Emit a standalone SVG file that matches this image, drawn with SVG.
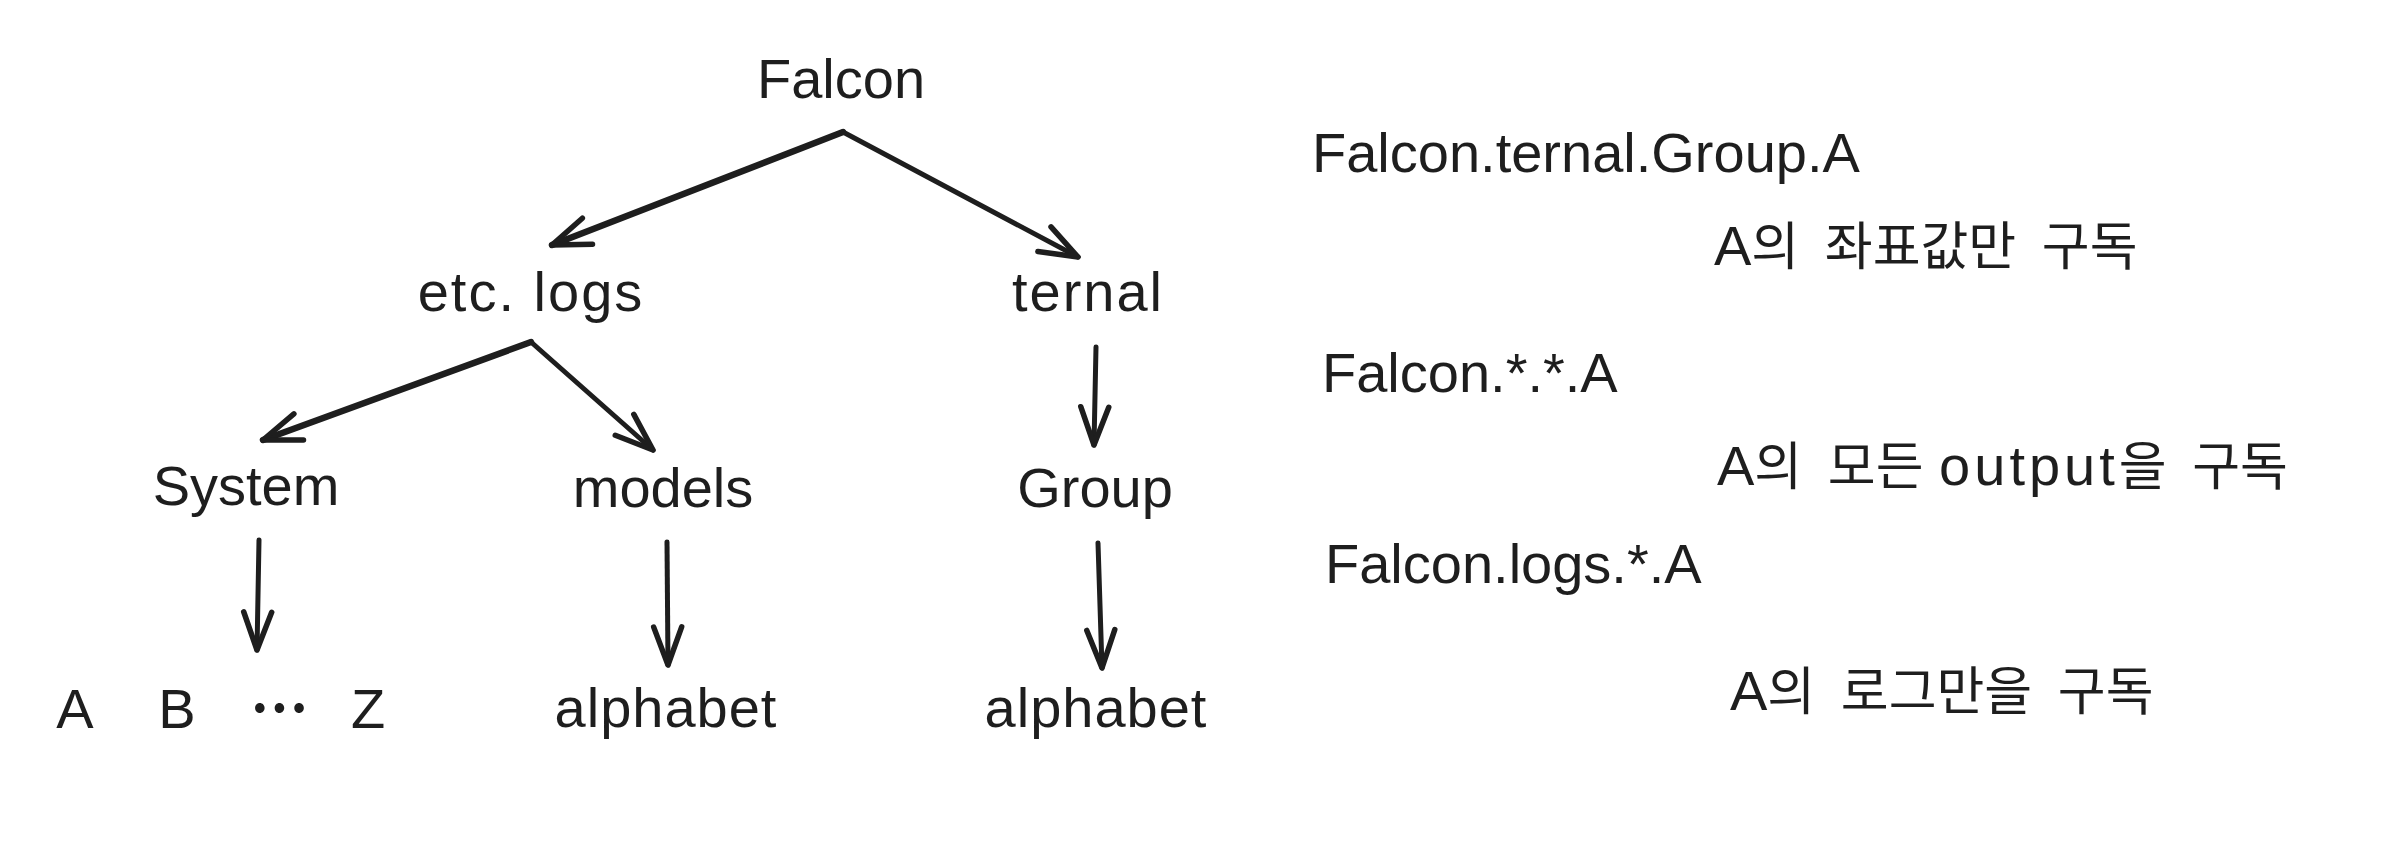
<svg xmlns="http://www.w3.org/2000/svg" width="2404" height="848" viewBox="0 0 2404 848">
<style>
.t{font-family:"Liberation Sans","Noto Sans CJK KR",sans-serif;font-size:56px;fill:#1e1e1e}
.m{text-anchor:middle}
.k{font-family:"Noto Sans CJK KR","Liberation Sans",sans-serif;font-size:52px;word-spacing:14px}
.c{fill:none;stroke:#1e1e1e;stroke-width:5;stroke-linecap:round;stroke-linejoin:round;marker-end:url(#ah)}
.w{stroke-width:6.5}
</style>
<defs>
<marker id="ah" markerUnits="userSpaceOnUse" markerWidth="60" markerHeight="60" refX="0" refY="0" orient="auto" overflow="visible">
<path d="M-38,-14 L0,0 L-38,14" fill="none" stroke="#1e1e1e" stroke-width="5.5" stroke-linecap="round" stroke-linejoin="round"/>
</marker>
</defs>
<rect width="2404" height="848" fill="#ffffff"/>
<g id="connectors">
<path class="c w" d="M843,132 L552,245"/>
<path class="c" d="M843,132 L1078,257"/>
<path class="c w" d="M531,342 L263,440"/>
<path class="c" d="M531,342 L653,450"/>
<path class="c" d="M1096,347 L1094,445"/>
<path class="c" d="M259,540 L257,650"/>
<path class="c" d="M667,542 L668,665"/>
<path class="c" d="M1098,543 L1102,668"/>
</g>
<g id="node-falcon"><text class="t m" x="841" y="98">Falcon</text></g>
<g id="node-etclogs"><text class="t m" x="531" y="311" letter-spacing="2">etc. logs</text></g>
<g id="node-ternal"><text class="t m" x="1088" y="311" letter-spacing="2">ternal</text></g>
<g id="node-system"><text class="t m" x="246" y="505">System</text></g>
<g id="node-models"><text class="t m" x="663" y="507">models</text></g>
<g id="node-group"><text class="t m" x="1095" y="507">Group</text></g>
<g id="node-az"><text class="t m" y="728"><tspan x="75">A</tspan><tspan x="177">B</tspan><tspan class="k" x="279" dy="-16" font-weight="bold">…</tspan><tspan x="368" dy="16">Z</tspan></text></g>
<g id="node-alphabet1"><text class="t m" x="666" y="727" letter-spacing="1">alphabet</text></g>
<g id="node-alphabet2"><text class="t m" x="1096" y="727" letter-spacing="1">alphabet</text></g>
<g id="note-1"><text class="t" x="1312" y="172">Falcon.ternal.Group.A</text></g>
<g id="note-1-desc"><text class="t" x="1714" y="265">A<tspan class="k">의 좌표값만 구독</tspan></text></g>
<g id="note-2"><text class="t" x="1322" y="392">Falcon.*.*.A</text></g>
<g id="note-2-desc"><text class="t" x="1717" y="485">A<tspan class="k">의 모든</tspan> <tspan letter-spacing="4">output</tspan><tspan class="k">을 구독</tspan></text></g>
<g id="note-3"><text class="t" x="1325" y="583">Falcon.logs.*.A</text></g>
<g id="note-3-desc"><text class="t" x="1730" y="710">A<tspan class="k">의 로그만을 구독</tspan></text></g>
</svg>
